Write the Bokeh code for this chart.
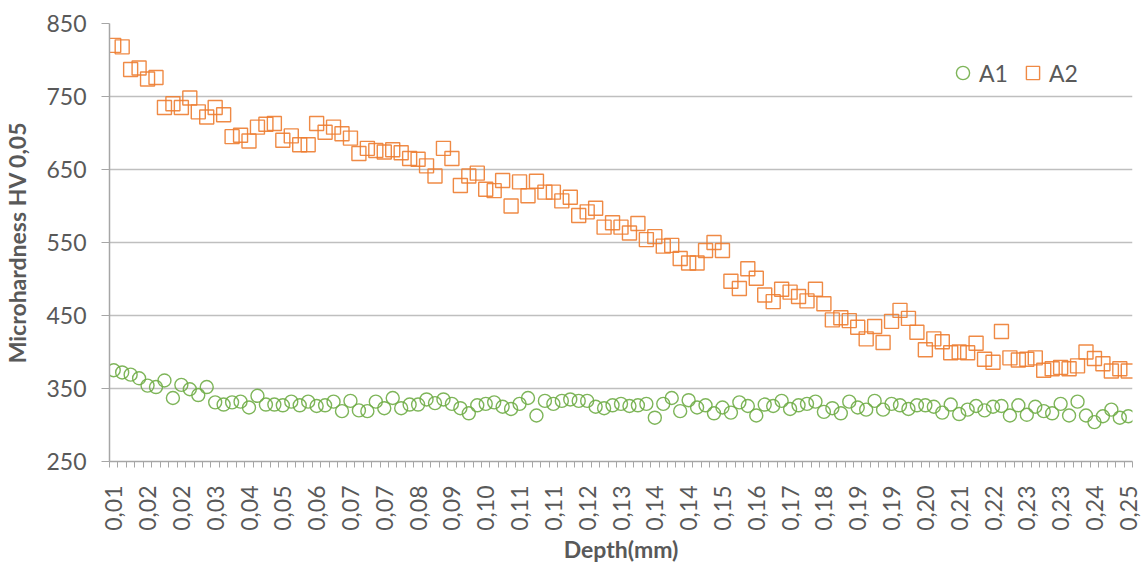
import math
from bokeh.plotting import figure
from bokeh.models import Range1d, FixedTicker, Legend, LegendItem, ColumnDataSource
from bokeh.embed import file_html
from bokeh.resources import INLINE

# x tick labels (one every 4 measurement points)
tick_labels = ["0,01", "0,02", "0,02", "0,03", "0,04", "0,05", "0,06", "0,07", "0,07", "0,08",
               "0,09", "0,10", "0,11", "0,11", "0,12", "0,13", "0,14", "0,14", "0,15", "0,16",
               "0,17", "0,18", "0,19", "0,19", "0,20", "0,21", "0,22", "0,23", "0,23", "0,24", "0,25"]
label_step = 4

a1 = [375, 372, 369, 364, 354, 352, 361, 337, 355, 349,
      341, 352, 331, 328, 331, 332, 324, 340, 328, 328,
      327, 332, 327, 332, 326, 327, 332, 319, 333, 320,
      319, 332, 323, 337, 323, 328, 328, 335, 330, 335,
      329, 323, 316, 327, 329, 331, 325, 322, 329, 337,
      313, 333, 329, 333, 335, 333, 333, 325, 323, 327,
      329, 326, 327, 329, 310, 329, 337, 319, 334, 324,
      327, 316, 324, 317, 331, 326, 313, 328, 326, 333,
      322, 327, 329, 332, 318, 323, 316, 332, 324, 321,
      333, 321, 329, 327, 322, 327, 327, 325, 317, 328,
      315, 321, 326, 320, 325, 326, 313, 327, 314, 325,
      319, 316, 329, 313, 332, 313, 304, 312, 321, 310, 312]

a2 = [820, 818, 787, 789, 774, 776, 735, 740, 735, 748,
      729, 722, 735, 725, 695, 697, 689, 708, 712, 713,
      690, 696, 684, 684, 713, 701, 708, 699, 693, 672,
      679, 676, 674, 677, 673, 665, 664, 655, 641, 679,
      665, 628, 641, 645, 623, 621, 635, 600, 633, 614,
      634, 619, 619, 607, 612, 587, 592, 597, 571, 577,
      571, 563, 576, 554, 558, 545, 546, 528, 522, 522,
      539, 550, 539, 497, 487, 514, 501, 478, 469, 486,
      482, 476, 470, 486, 466, 444, 447, 443, 434, 418,
      435, 413, 442, 457, 446, 427, 403, 418, 414, 399,
      400, 399, 412, 390, 386, 428, 392, 389, 390, 392,
      375, 377, 379, 377, 381, 400, 391, 384, 374, 377, 374]

y_ticks = [250, 350, 450, 550, 650, 750, 850]

n = len(a1)
idx = list(range(n))
src = ColumnDataSource(dict(x=idx, a1=a1, a2=a2))

FONT = "Lato"
TXT = "#595959"

p = figure(frame_width=1023, frame_height=438, output_backend="svg", toolbar_location=None,
           x_range=Range1d(-0.5, n - 0.5), y_range=Range1d(250, 850),
           min_border_left=109, min_border_top=23, min_border_right=10, min_border_bottom=40)
p.outline_line_color = None
p.background_fill_color = "white"
p.border_fill_color = "white"

r1 = p.scatter("x", "a1", source=src, marker="circle", size=13, fill_alpha=0,
               line_color="#70AD47", line_width=1.4, line_alpha=0.9)
r2 = p.scatter("x", "a2", source=src, marker="square", size=14, fill_alpha=0,
               line_color="#ED7D31", line_width=1.4, line_alpha=0.9)

# x axis
major = list(range(0, n, label_step))
p.xaxis.ticker = FixedTicker(ticks=major, minor_ticks=[i - 0.5 for i in range(n + 1)])
p.xaxis.major_label_overrides = {m: lab for m, lab in zip(major, tick_labels)}
p.xaxis.major_label_orientation = math.pi / 2
p.xaxis.major_tick_out = 0
p.xaxis.major_tick_in = 0
p.xaxis.minor_tick_out = 6
p.xaxis.minor_tick_in = 0
p.xaxis.minor_tick_line_color = "#A6A6A6"
p.xaxis.axis_line_color = "#A6A6A6"
p.xaxis.axis_line_width = 1.5
p.xaxis.major_label_standoff = 18
p.xaxis.axis_label = "Depth(mm)"
p.xaxis.axis_label_standoff = 1

# y axis
p.yaxis.ticker = FixedTicker(ticks=y_ticks, minor_ticks=[])
p.yaxis.major_tick_out = 8
p.yaxis.major_tick_in = 0
p.yaxis.major_tick_line_color = "#A6A6A6"
p.yaxis.axis_line_color = "#A6A6A6"
p.yaxis.axis_line_width = 1.5
p.yaxis.major_label_standoff = 15
p.yaxis.axis_label = "Microhardness HV 0,05"
p.yaxis.axis_label_standoff = 12

for ax in (p.xaxis[0], p.yaxis[0]):
    ax.major_label_text_font = FONT
    ax.major_label_text_font_size = "23px"
    ax.major_label_text_color = TXT
    ax.axis_label_text_font = FONT
    ax.axis_label_text_font_size = "23px"
    ax.axis_label_text_font_style = "bold"
    ax.axis_label_text_color = TXT

p.xgrid.grid_line_color = None
p.ygrid.grid_line_color = "#BFBFBF"
p.ygrid.grid_line_width = 1.3
p.ygrid.ticker = FixedTicker(ticks=y_ticks)

legend = Legend(items=[LegendItem(label="A1", renderers=[r1]),
                       LegendItem(label="A2", renderers=[r2])],
                orientation="horizontal", location=(837, 372),
                padding=0, margin=0, spacing=8, glyph_width=33, glyph_height=33,
                label_standoff=0, border_line_color=None, background_fill_alpha=0,
                label_text_font=FONT, label_text_font_size="23px", label_text_color=TXT)
p.add_layout(legend)

open("out.html", "w").write(file_html(p, INLINE))
